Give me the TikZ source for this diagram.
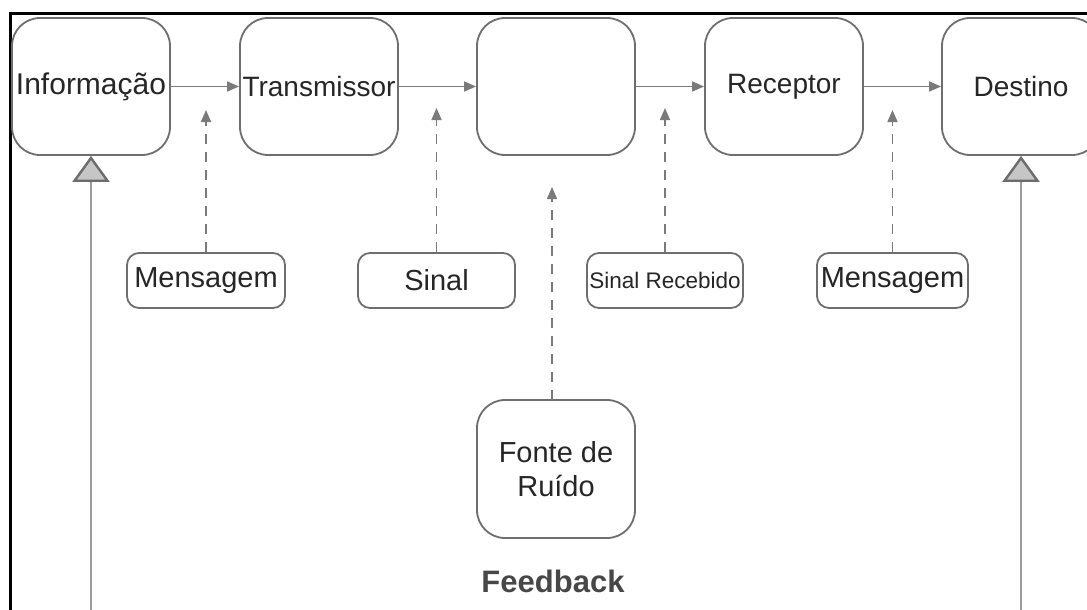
\documentclass[tikz,border=0pt]{standalone}
\usepackage{fontspec}
\setmainfont{Liberation Sans}
\usetikzlibrary{arrows.meta}
\definecolor{boxline}{HTML}{6E6E6E}
\definecolor{arrowc}{HTML}{7A7A7A}
\definecolor{txt}{HTML}{262626}
\definecolor{fbline}{HTML}{9A9A9A}
\tikzset{
  bigbox/.style={draw=boxline, line width=1.8pt, fill=white, rounded corners=28pt,
    minimum width=158pt, minimum height=137pt, inner sep=0pt, text=txt,
    font=\fontsize{28}{34}\selectfont, align=center},
  tagbox/.style={draw=boxline, line width=1.8pt, fill=white, rounded corners=12pt,
    minimum height=55pt, inner sep=0pt, text=txt,
    font=\fontsize{29}{34}\selectfont},
  flow/.style={draw=arrowc, line width=1.6pt, -{Triangle[length=12pt,width=10pt]}},
  dasharrow/.style={draw=arrowc, line width=1.6pt, dash pattern=on 10pt off 8pt,
    -{Triangle[length=12pt,width=10pt]}},
  feedline/.style={draw=fbline, line width=2.4pt,
    -{Triangle[length=26pt,width=37pt,fill=gray!45,color=gray!85!black]}},
}
\begin{document}
\begin{tikzpicture}[x=1pt,y=-1pt]
\useasboundingbox (0,0) rectangle (1087,610);
\clip (0,0) rectangle (1087,610);
% outer frame (only top and left edges fall inside the page)
\draw[black, line width=3pt] (10,640) -- (10,14) -- (1100,14);

% main chain
\node[bigbox, font=\fontsize{30}{34}\selectfont] (info)  at (91,86.5)  {Informa\c{c}\~ao};
\node[bigbox] (trans) at (319,86.5) {Transmissor};
\node[bigbox] (canal) at (556,86.5) {};
\node[bigbox] (recep) at (784,86.5) {Receptor};
\node[bigbox] (dest)  at (1021,86.5) {Destino};

\draw[flow] (info) -- (trans);
\draw[flow] (trans) -- (canal);
\draw[flow] (canal) -- (recep);
\draw[flow] (recep) -- (dest);

% what travels along each link
\node[tagbox, minimum width=158pt] (msg1) at (206,280.5) {Mensagem};
\node[tagbox, minimum width=157pt] (sinal) at (436.5,280.5) {Sinal};
\node[tagbox, minimum width=156pt, font=\fontsize{22.5}{26}\selectfont] (sinrec) at (665,280.5) {Sinal Recebido};
\node[tagbox, minimum width=151pt] (msg2) at (892.5,280.5) {Mensagem};

\coordinate (tip1) at (msg1.north |- 0,110);
\coordinate (tip2) at (sinal.north |- 0,108);
\coordinate (tip3) at (sinrec.north |- 0,108);
\coordinate (tip4) at (msg2.north |- 0,110);
\draw[dasharrow] (msg1.north) -- (tip1);
\draw[dasharrow] (sinal.north) -- (tip2);
\draw[dasharrow] (sinrec.north) -- (tip3);
\draw[dasharrow] (msg2.north) -- (tip4);

% noise source
\node[bigbox, minimum width=158pt, minimum height=138pt, font=\fontsize{29}{34}\selectfont] (ruido) at (556,469) {Fonte de\\Ru\'ido};
\coordinate (ruidobase) at (552,400);
\coordinate (tip5) at (552,187);
\draw[dasharrow] (ruidobase) -- (tip5);

% feedback
\node[text=black!72, font=\bfseries\fontsize{31}{34}\selectfont] (fb) at (553,581) {Feedback};
\coordinate (fbL) at (info.south |- 0,640);
\coordinate (fbR) at (dest.south |- 0,640);
\draw[feedline] (fbL) -- (info.south);
\draw[feedline] (fbR) -- (dest.south);
\end{tikzpicture}
\end{document}
